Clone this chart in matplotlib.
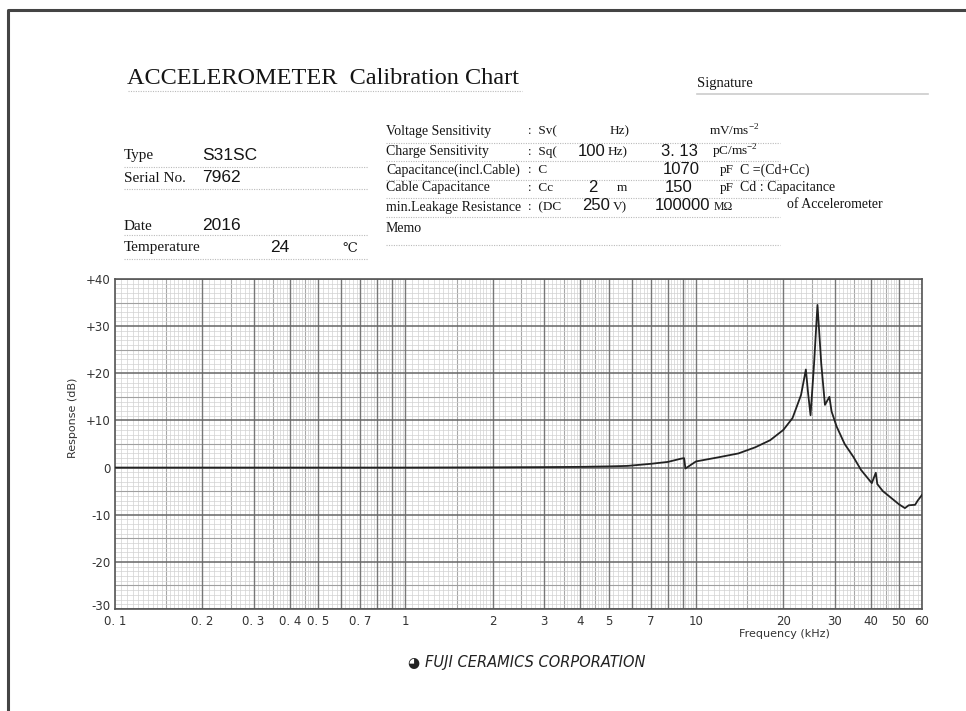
import numpy as np
import matplotlib
matplotlib.use("Agg")
import matplotlib.pyplot as plt
import matplotlib.transforms as mtrans
from matplotlib.lines import Line2D

# response curve (frequency in kHz, response in dB)
freq_khz = [0.1, 0.5, 1, 2, 3, 4, 5, 5.8, 7, 8, 8.9, 9.1, 9.2, 10, 12, 14, 16, 18, 20,
            21.5, 23, 23.9, 24.3, 24.8, 25.5, 26.2, 27, 27.8, 28.5, 28.8, 29.3, 30.5,
            32.5, 34.8, 37, 40.3, 41.6, 42.1, 44, 46.5, 50, 52.4, 54, 56.8, 58, 60]
response_db = [0, 0, 0, 0.05, 0.1, 0.15, 0.25, 0.35, 0.8, 1.2, 1.9, 2.0, -0.2, 1.3, 2.2,
               3.0, 4.3, 5.8, 8.0, 10.5, 15.4, 20.8, 16, 11.1, 22, 34.5, 22, 13.3, 14.5,
               15.0, 11.9, 8.7, 5.0, 2.3, -0.5, -3.3, -1.1, -3.5, -5.0, -6.2, -7.8, -8.6,
               -8.0, -7.9, -7.0, -5.8]

x_ticks = [0.1, 0.2, 0.3, 0.4, 0.5, 0.7, 1, 2, 3, 4, 5, 7, 10, 20, 30, 40, 50, 60]
x_labels = ["0. 1", "0. 2", "0. 3", "0. 4", "0. 5", "0. 7", "1", "2", "3", "4", "5", "7",
            "10", "20", "30", "40", "50", "60"]
y_ticks = [40, 30, 20, 10, 0, -10, -20, -30]
y_labels = ["+40", "+30", "+20", "+10", "0", "-10", "-20", "-30"]

W, H = 966, 711
fig = plt.figure(figsize=(W / 100, H / 100), dpi=100)
fig.patch.set_facecolor("white")


def px(x, y):
    return x / W, 1 - y / H


serif = ["Liberation Serif", "DejaVu Serif"]
narrow = ["Liberation Sans Narrow", "Liberation Sans", "DejaVu Sans"]


def txt(x, y, s, size=10, family=serif, **kw):
    fig.text(*px(x, y), s, fontsize=size, family=family, va="center", ha="left",
             color="#151515", **kw)


def dotline(x0, x1, y):
    fig.add_artist(Line2D([x0 / W, x1 / W], [1 - y / H, 1 - y / H], color="#bbbbbb",
                          lw=0.8, ls=(0, (1, 1.2))))


# page border
fig.add_artist(Line2D([8 / W, 8 / W, 1], [0, 1 - 10 / H, 1 - 10 / H], color="#444444", lw=2.2))

# header
txt(127, 78, "ACCELEROMETER  Calibration Chart", size=17.5)
dotline(128, 522, 91)
txt(697, 84, "Signature", size=10.5)
fig.add_artist(Line2D([697 / W, 928 / W], [1 - 94 / H] * 2, color="#cccccc", lw=1.2))

# left block
txt(124, 156, "Type", size=11)
txt(202, 155, "S31SC", size=12.5, family=narrow)
txt(124, 178, "Serial No.", size=11)
txt(202, 177, "7962", size=12.5, family=narrow)
txt(124, 226, "Date", size=11)
txt(202, 225, "2016", size=12.5, family=narrow)
txt(124, 248, "Temperature", size=11)
txt(270, 247, "24", size=12.5, family=narrow)
txt(342, 248, "\u2103", size=9.5, family=["DejaVu Serif"])
for yy in [167, 189, 235, 259]:
    dotline(124, 368, yy)

# right block
rows = [131, 152, 170, 188, 207, 228]
names = ["Voltage Sensitivity", "Charge Sensitivity", "Capacitance(incl.Cable)",
         "Cable Capacitance", "min.Leakage Resistance", "Memo"]
for yy, nm in zip(rows, names):
    txt(386, yy, nm, size=10)
for yy in [143, 161, 180, 198, 217, 245]:
    dotline(386, 780, yy)

sup = "$^{\\mathregular{-2}}$"
txt(528, 131, ":  Sv(", size=9.5)
txt(610, 131, "Hz)", size=9.5)
txt(709, 131, "mV/ms" + sup, size=9.5)
txt(528, 152, ":  Sq(", size=9.5)
txt(578, 151, "100", size=12, family=narrow)
txt(608, 152, "Hz)", size=9.5)
txt(661, 151, "3. 13", size=12, family=narrow)
txt(712, 152, "pC/ms" + sup, size=9.5)
txt(528, 170, ":  C", size=9.5)
txt(663, 169, "1070", size=12, family=narrow)
txt(720, 170, "pF", size=9.5)
txt(740, 170, "C =(Cd+Cc)", size=10)
txt(528, 188, ":  Cc", size=9.5)
txt(588, 187, "2", size=12, family=narrow)
txt(617, 188, "m", size=9.5)
txt(665, 187, "150", size=12, family=narrow)
txt(720, 188, "pF", size=9.5)
txt(740, 188, "Cd : Capacitance", size=10)
txt(528, 207, ":  (DC", size=9.5)
txt(582, 206, "250", size=12, family=narrow)
txt(613, 207, "V)", size=9.5)
txt(655, 206, "100000", size=12, family=narrow)
txt(714, 207, "M\u03a9", size=8.5)
txt(787, 205, "of Accelerometer", size=10)

# chart
ax = fig.add_axes([115 / W, 1 - 609 / H, (922 - 115) / W, (609 - 279) / H])
ax.set_xscale("log")
ax.set_xlim(0.1, 60)
ax.set_ylim(-30, 40)

fine_x, mid_x, major_x = [], [], []
for base in [0.1, 1, 10]:
    fine_x += list(base * np.arange(1, 2, 0.05)) + list(base * np.arange(2, 5, 0.1)) \
        + list(base * np.arange(5, 10, 0.2))
    mid_x += list(base * np.arange(1.5, 5, 1.0))
    major_x += list(base * np.arange(1, 10))
for v in fine_x:
    if v <= 60:
        ax.axvline(v, color="#d2d2d2", lw=0.5, zorder=0)
for v in mid_x:
    if v <= 60:
        ax.axvline(v, color="#a8a8a8", lw=0.8, zorder=0)
for v in major_x:
    if 0.1 < v <= 60:
        ax.axvline(v, color="#777777", lw=1.0, zorder=1)
for v in range(-30, 41):
    if v % 10 == 0:
        ax.axhline(v, color="#666666", lw=1.1, zorder=1)
    elif v % 5 == 0:
        ax.axhline(v, color="#a0a0a0", lw=0.8, zorder=0)
    else:
        ax.axhline(v, color="#d2d2d2", lw=0.5, zorder=0)

ax.plot(freq_khz, response_db, color="#222222", lw=1.3, zorder=3)

ax.set_xticks(x_ticks)
ax.set_xticklabels(x_labels)
ax.set_xticks([], minor=True)
ax.set_yticks(y_ticks)
ax.set_yticklabels(y_labels)
ax.tick_params(length=0, labelsize=8.5, colors="#333333", pad=3)
ax.tick_params(axis="x", pad=4)
# lift "-30" a touch so it clears the "0. 1" label below it
lab = ax.get_yticklabels()[-1]
lab.set_transform(lab.get_transform() + mtrans.ScaledTranslation(0, 4 / 100, fig.dpi_scale_trans))
for s in ax.spines.values():
    s.set_color("#555555")
    s.set_linewidth(1.2)

fig.text(*px(73, 418), "Response (dB)", rotation=90, fontsize=8, va="center", ha="center",
         color="#333333")
fig.text(*px(784, 634), "Frequency (kHz)", fontsize=8, va="center", ha="center",
         color="#333333")

# footer
fig.text(*px(413, 663), "\u25d5", fontsize=10, va="center", ha="center", color="#222222")
fig.text(*px(425, 663), "FUJI CERAMICS CORPORATION", fontsize=10.5, style="italic",
         va="center", ha="left", color="#222222", family="DejaVu Sans")

fig.savefig("out.png", dpi=100)
